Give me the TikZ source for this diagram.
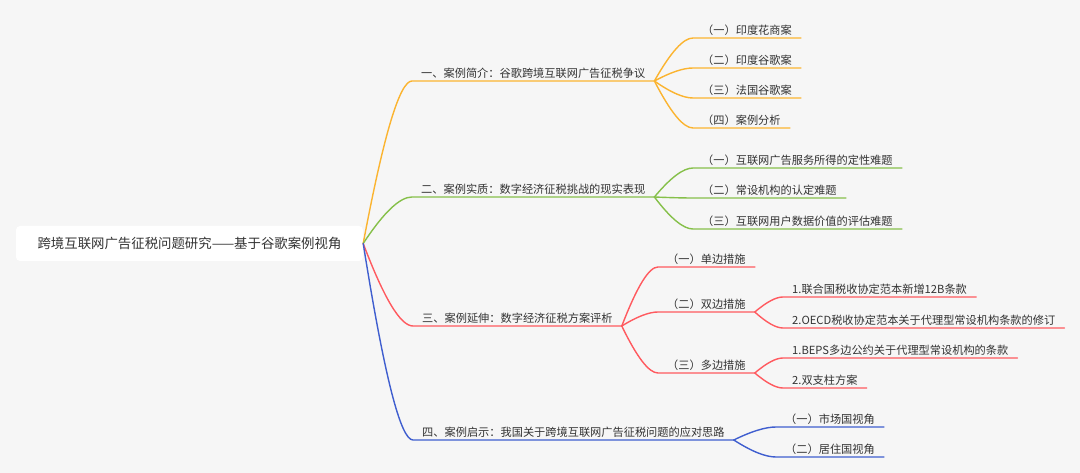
\documentclass[tikz,border=0pt]{standalone}
\usepackage{fontspec}
\setmainfont{Noto Sans CJK SC}
\usetikzlibrary{calc}
\definecolor{bgcol}{HTML}{F6F6F6}
\definecolor{txtcol}{HTML}{333333}
\definecolor{orangeline}{HTML}{FBB430}
\definecolor{greenline}{HTML}{86C04A}
\definecolor{redline}{HTML}{FF5A5F}
\definecolor{blueline}{HTML}{3F5ECF}

\begin{document}
\begin{tikzpicture}[x=1pt, y=-1pt,
    root/.style={fill=white, rounded corners=4pt, minimum width=347pt, minimum height=35pt,
        inner sep=0pt, text=txtcol, font=\fontsize{13.4}{16}\selectfont},
    topic/.style={anchor=south west, inner xsep=9pt, inner ysep=2pt, text depth=1.5pt,
        text=txtcol, font=\fontsize{11.2}{13}\selectfont},
    link/.style={line width=1.4pt, line cap=round, to path={let \p1=(\tikztostart), \p2=(\tikztotarget) in
        .. controls ({\x1+0.42*(\x2-\x1)},{\y1+0.67*(\y2-\y1)}) and ({\x2-0.25*(\x2-\x1)},\y2) .. (\tikztotarget)}}]
    % background
    \path[use as bounding box, fill=bgcol] (0,0) rectangle (1080,473);
    % root
    \node[root] (root) at (189.5,243.5) {跨境互联网广告征税问题研究——基于谷歌案例视角};
    % main topics
    \node[topic] (b1) at (412,81) {一、案例简介：谷歌跨境互联网广告征税争议};
    \node[topic] (b2) at (412,197) {二、案例实质：数字经济征税挑战的现实表现};
    \node[topic] (b3) at (413,326) {三、案例延伸：数字经济征税方案评析};
    \node[topic] (b4) at (413,440) {四、案例启示：我国关于跨境互联网广告征税问题的应对思路};
    % subtopics of b1
    \node[topic] (c11) at (693,38) {（一）印度花商案};
    \node[topic] (c12) at (693,68) {（二）印度谷歌案};
    \node[topic] (c13) at (693,98) {（三）法国谷歌案};
    \node[topic] (c14) at (693,128) {（四）案例分析};
    % subtopics of b2
    \node[topic] (c21) at (693,168) {（一）互联网广告服务所得的定性难题};
    \node[topic] (c22) at (693,198) {（二）常设机构的认定难题};
    \node[topic] (c23) at (693,229) {（三）互联网用户数据价值的评估难题};
    % subtopics of b3
    \node[topic] (c31) at (658,267) {（一）单边措施};
    \node[topic] (c32) at (658,312) {（二）双边措施};
    \node[topic] (c33) at (658,373) {（三）多边措施};
    \node[topic] (g321) at (783,297) {1.联合国税收协定范本新增12B条款};
    \node[topic] (g322) at (783,328) {2.OECD税收协定范本关于代理型常设机构条款的修订};
    \node[topic] (g331) at (783,358) {1.BEPS多边公约关于代理型常设机构的条款};
    \node[topic] (g332) at (783,388) {2.双支柱方案};
    % subtopics of b4
    \node[topic] (c41) at (776,427) {（一）市场国视角};
    \node[topic] (c42) at (776,457) {（二）居住国视角};
    % connectors
    \draw[link, orangeline] (root.east) to (b1.south west) -- (b1.south east);
    \draw[link, greenline] (root.east) to (b2.south west) -- (b2.south east);
    \draw[link, redline] (root.east) to (b3.south west) -- (b3.south east);
    \draw[link, blueline] (root.east) to (b4.south west) -- (b4.south east);
    \foreach \c in {c11,c12,c13,c14}
        \draw[link, orangeline] (b1.south east) to (\c.south west) -- (\c.south east);
    \foreach \c in {c21,c22,c23}
        \draw[link, greenline] (b2.south east) to (\c.south west) -- (\c.south east);
    \foreach \c in {c31,c32,c33}
        \draw[link, redline] (b3.south east) to (\c.south west) -- (\c.south east);
    \foreach \c in {g321,g322}
        \draw[link, redline] (c32.south east) to (\c.south west) -- (\c.south east);
    \foreach \c in {g331,g332}
        \draw[link, redline] (c33.south east) to (\c.south west) -- (\c.south east);
    \foreach \c in {c41,c42}
        \draw[link, blueline] (b4.south east) to (\c.south west) -- (\c.south east);
\end{tikzpicture}
\end{document}
